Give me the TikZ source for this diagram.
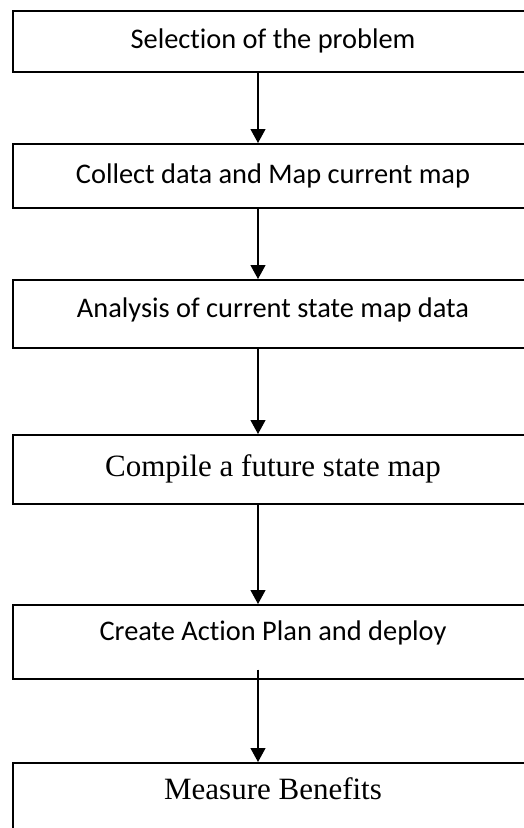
\documentclass[tikz,border=0pt]{standalone}
\usepackage{fontspec}
\usepackage{tikz}
\usetikzlibrary{arrows.meta}
\newfontfamily\calibrifont{Carlito}[Ligatures=NoCommon]
\newfontfamily\timesfont{Liberation Serif}
\tikzset{
  stepbox/.style={draw, line width=1.5pt, minimum width=520pt, inner sep=0pt, anchor=north},
  sans/.style={font=\calibrifont\fontsize{28.4}{34}\selectfont},
  serif/.style={font=\timesfont\fontsize{31}{37}\selectfont},
  flow/.style={-{Triangle[width=15pt,length=14pt]}, line width=1.2pt},
}
\begin{document}
\begin{tikzpicture}[x=1pt,y=-1pt]
  \useasboundingbox (0,0) rectangle (524,828);
  \node[stepbox, sans, minimum height=61pt] (sel) at (273,10) {Selection of the problem};
  \node[stepbox, sans, minimum height=64pt] (col) at (273,143) {Collect data and Map current map};
  \node[stepbox, sans, minimum height=68pt, text height=20pt, text depth=12pt] (ana) at (273,279) {Analysis of current state map data};
  \node[stepbox, serif, minimum height=69pt] (fut) at (273,434) {Compile a future state map};
  \node[stepbox, sans, minimum height=74pt, text height=20pt, text depth=22pt] (act) at (273,604) {Create Action Plan and deploy};
  \node[stepbox, serif, minimum height=80pt, text height=22pt, text depth=28pt] (mea) at (273,762) {Measure Benefits};
  % arrows sit left of the box centres
  \coordinate (ax) at (258,0);
  \coordinate (actout) at ([yshift=10pt]act.south);
  \draw[flow] (sel.south -| ax) -- (col.north -| ax);
  \draw[flow] (col.south -| ax) -- (ana.north -| ax);
  \draw[flow] (ana.south -| ax) -- (fut.north -| ax);
  \draw[flow] (fut.south -| ax) -- (act.north -| ax);
  \draw[flow] (actout -| ax) -- (mea.north -| ax);
\end{tikzpicture}
\end{document}
